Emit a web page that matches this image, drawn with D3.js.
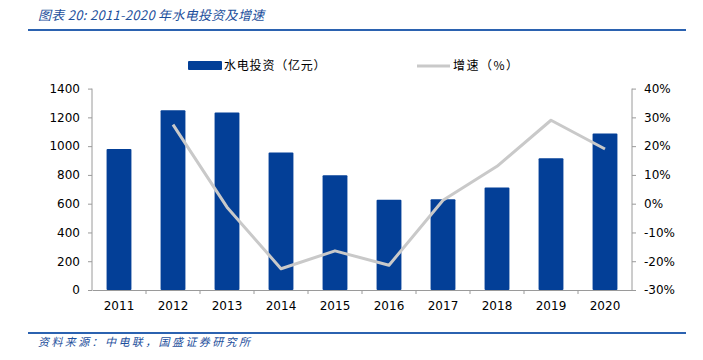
<!DOCTYPE html>
<html>
<head>
<meta charset="utf-8">
<script src="https://cdn.jsdelivr.net/npm/d3@7"></script>
<style>
  body { margin: 0; background: #fff; }
  svg text { font-family: Tahoma, "DejaVu Sans", "Noto Sans CJK SC", sans-serif; }
</style>
</head>
<body>
<div id="chart"></div>
<script>
// Data
const years = ['2011', '2012', '2013', '2014', '2015', '2016', '2017', '2018', '2019', '2020'];
const investment = [980, 1250, 1234, 956, 798, 628, 631, 713, 915, 1088];
const growth = [null, 27.5, -1.2, -22.6, -16.4, -21.4, 1.2, 13.0, 29.0, 19.0];
const leftTicks = [0, 200, 400, 600, 800, 1000, 1200, 1400];
const rightTicks = [-30, -20, -10, 0, 10, 20, 30, 40];

const W = 703, H = 360;
const plot = { left: 92, right: 632, top: 88.6, bottom: 290 };
const blue = '#033f97';
const gray = '#c9c9c9';
const axisColor = '#9a9a9a';

const svg = d3.select('#chart')
    .append('svg')
    .attr('width', W)
    .attr('height', H);

// Title + rules
svg.append('text')
    .attr('x', 38).attr('y', 20)
    .style('font-family', '"Noto Sans CJK SC", sans-serif')
    .style('font-style', 'italic')
    .style('font-size', '13px')
    .style('letter-spacing', '0.3px')
    .style('fill', '#1d4f9c')
    .text('图表 20:  2011-2020 年水电投资及增速');

svg.append('line')
    .attr('x1', 28).attr('x2', 686).attr('y1', 30).attr('y2', 30)
    .style('stroke', '#2b62b0').style('stroke-width', 2);

svg.append('line')
    .attr('x1', 28).attr('x2', 686).attr('y1', 333).attr('y2', 333)
    .style('stroke', '#2b62b0').style('stroke-width', 2);

svg.append('text')
    .attr('x', 38).attr('y', 346)
    .style('font-family', '"Noto Sans CJK SC", sans-serif')
    .style('font-style', 'italic')
    .style('font-size', '11px')
    .style('letter-spacing', '2.4px')
    .style('fill', '#1d4f9c')
    .text('资料来源：中电联，国盛证券研究所');

// Scales
const x = d3.scaleBand()
    .domain(years)
    .range([plot.left, plot.right])
    .paddingInner(0.54)
    .paddingOuter(0.27);

const xBand = d3.scaleBand()
    .domain(years)
    .range([plot.left, plot.right]);

const yL = d3.scaleLinear()
    .domain([0, 1400])
    .range([plot.bottom, plot.top]);

const yR = d3.scaleLinear()
    .domain([-30, 40])
    .range([plot.bottom, plot.top]);

// Axes
const leftAxis = svg.append('g')
    .attr('transform', `translate(${plot.left},0)`)
    .call(d3.axisLeft(yL).tickValues(leftTicks).tickSize(4).tickPadding(8).tickFormat(d3.format('d')));

const rightAxis = svg.append('g')
    .attr('transform', `translate(${plot.right},0)`)
    .call(d3.axisRight(yR).tickValues(rightTicks).tickSize(4).tickPadding(8).tickFormat(d => d + '%'));

[leftAxis, rightAxis].forEach(g => {
    g.select('.domain').attr('d', `M0,${plot.top}V${plot.bottom}`);
    g.selectAll('path, line').style('stroke', axisColor);
    g.selectAll('text').style('font-size', '12px').style('fill', '#000');
});

// Bars
svg.selectAll('.bar')
    .data(years)
    .enter()
    .append('rect')
    .attr('class', 'bar')
    .attr('x', d => x(d))
    .attr('y', (d, i) => yL(investment[i]))
    .attr('width', x.bandwidth())
    .attr('height', (d, i) => plot.bottom - yL(investment[i]))
    .attr('rx', 1)
    .style('fill', blue);

// X axis
const xAxis = svg.append('g')
    .attr('transform', `translate(0,${plot.bottom})`)
    .call(d3.axisBottom(xBand).tickSize(0).tickPadding(11));
xAxis.select('.domain').style('stroke', axisColor);
xAxis.selectAll('text').style('font-size', '12px').style('fill', '#000');
xAxis.selectAll('.sep')
    .data(years.slice(1))
    .enter()
    .append('line')
    .attr('class', 'sep')
    .attr('x1', d => xBand(d)).attr('x2', d => xBand(d))
    .attr('y1', 0).attr('y2', 4)
    .style('stroke', axisColor);

// Growth line
const line = d3.line()
    .defined(d => d[1] !== null)
    .x(d => xBand(d[0]) + xBand.bandwidth() / 2)
    .y(d => yR(d[1]));

svg.append('path')
    .datum(years.map((y, i) => [y, growth[i]]))
    .attr('d', line)
    .style('fill', 'none')
    .style('stroke', gray)
    .style('stroke-width', 3)
    .style('stroke-linejoin', 'round');

// Legend
const legend = svg.append('g');
legend.append('rect')
    .attr('x', 188).attr('y', 61).attr('width', 34).attr('height', 9)
    .attr('rx', 1)
    .style('fill', blue);
legend.append('text')
    .attr('x', 224).attr('y', 70)
    .style('font-family', '"Noto Sans CJK SC", sans-serif')
    .style('font-size', '12px')
    .style('letter-spacing', '0.8px')
    .text('水电投资（亿元）');
legend.append('line')
    .attr('x1', 417).attr('x2', 450).attr('y1', 66).attr('y2', 66)
    .style('stroke', gray).style('stroke-width', 3);
legend.append('text')
    .attr('x', 453).attr('y', 70)
    .style('font-family', '"Noto Sans CJK SC", sans-serif')
    .style('font-size', '12px')
    .style('letter-spacing', '1.5px')
    .text('增速（%）');
</script>
</body>
</html>
